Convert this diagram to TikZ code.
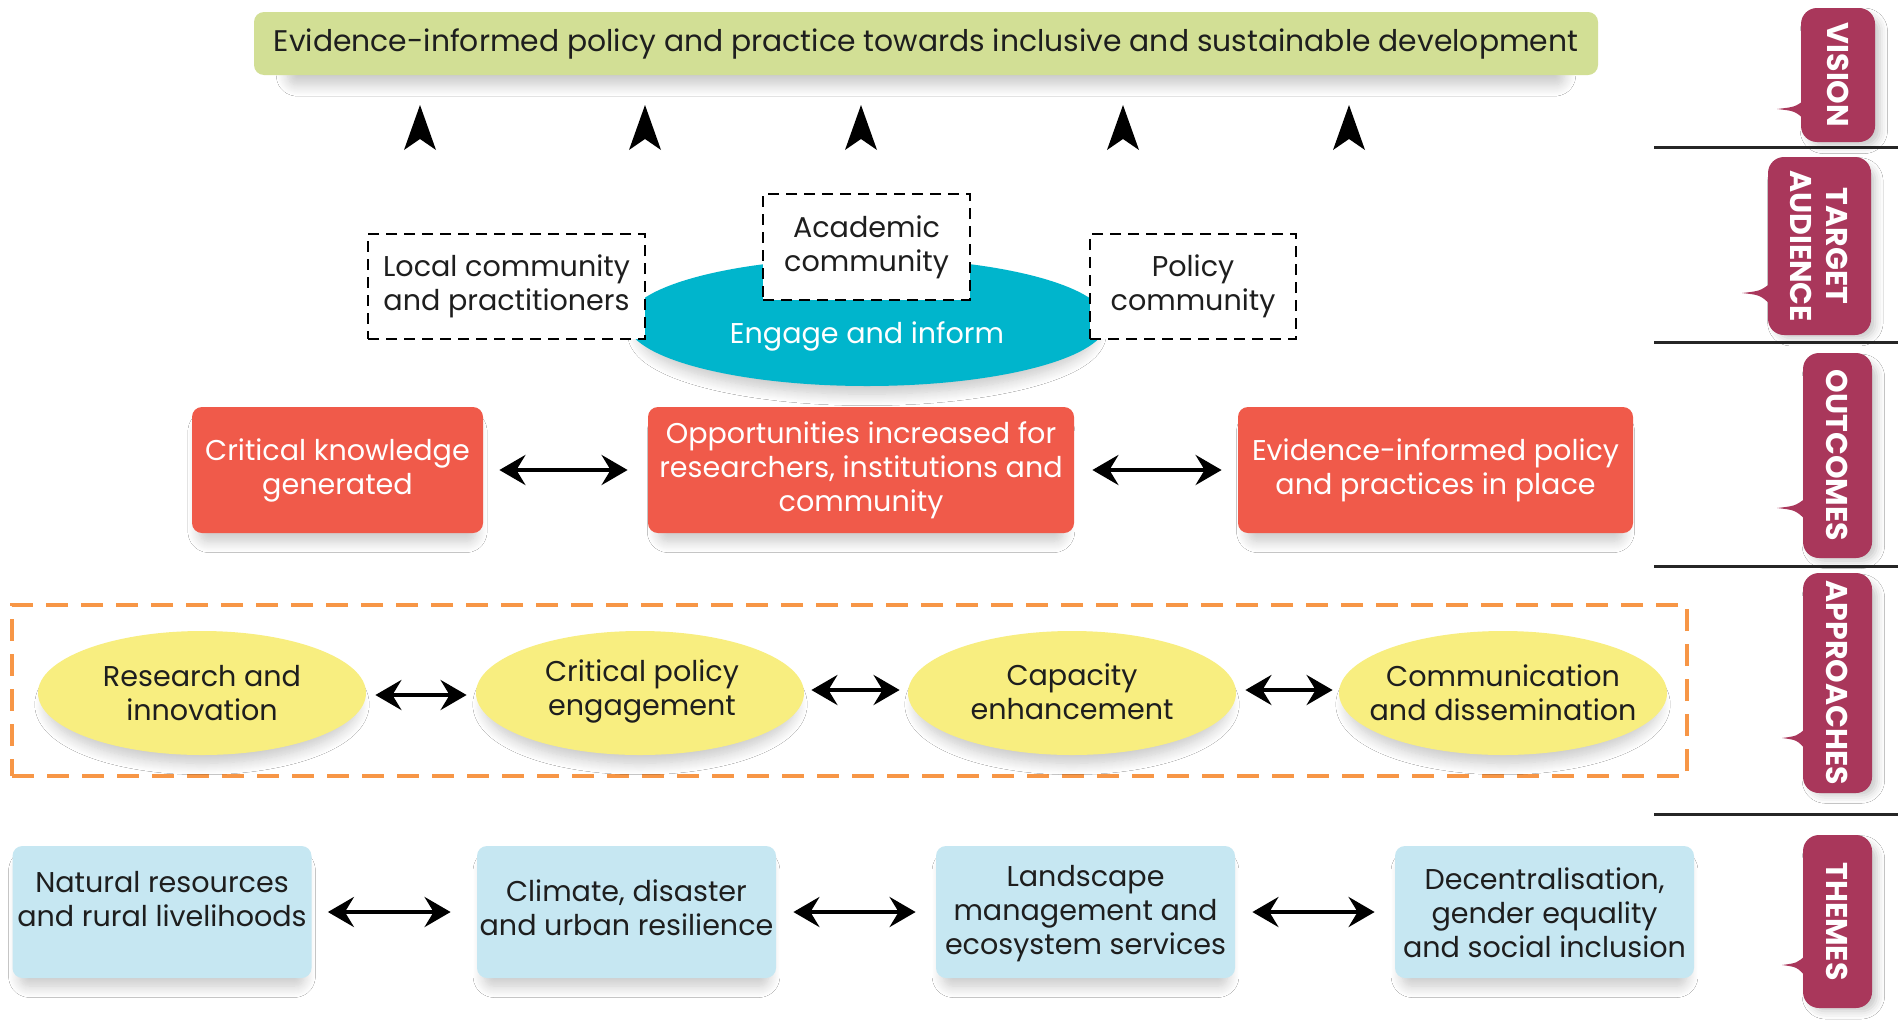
\documentclass[tikz,border=0pt]{standalone}
\usepackage{fontspec}
\setmainfont{Poppins}
\usetikzlibrary{arrows.meta,shapes.geometric,shadows.blur}
\definecolor{visgreen}{HTML}{D2DF95}
\definecolor{outred}{HTML}{F05A4A}
\definecolor{engteal}{HTML}{00B5CC}
\definecolor{appyellow}{HTML}{F8EE80}
\definecolor{themeblue}{HTML}{C6E7F2}
\definecolor{tabred}{HTML}{A9375B}
\definecolor{dashorange}{HTML}{F79646}
\definecolor{darktext}{HTML}{1E1E1E}
\tikzset{
  body/.style={font=\fontsize{14.3}{17}\selectfont, align=center, text=darktext, inner sep=0pt},
  softshadow/.style={blur shadow={shadow xshift=0pt, shadow yshift=-6pt, shadow blur radius=6pt, shadow blur steps=12, shadow scale=0.95, shadow opacity=22}},
  visionbox/.style={font=\fontsize{14.9}{18}\selectfont, text=darktext, inner sep=0pt, fill=visgreen, rounded corners=5pt, softshadow},
  audbox/.style={body, draw=black, fill=white, line width=1.3pt, dash pattern=on 5.5pt off 3.5pt},
  redbox/.style={body, text=white, fill=outred, rounded corners=5pt, minimum height=63pt, softshadow},
  yellowell/.style={ellipse, fill=appyellow, inner sep=0pt, minimum width=164pt, minimum height=62pt, softshadow},
  themebox/.style={body, fill=themeblue, rounded corners=5pt, minimum width=149.5pt, minimum height=66pt, softshadow},
  tabbox/.style={fill=tabred, rounded corners=8pt, inner sep=0pt,
     blur shadow={shadow xshift=3pt, shadow yshift=-3pt, shadow blur radius=4pt, shadow scale=0.97, shadow opacity=22}},
  tabtext/.style={font=\fontsize{15}{18}\selectfont\bfseries, text=white, align=center, rotate=-90, inner sep=0pt},
  dblarrow/.style={line width=2pt, {Stealth[length=13pt,width=15pt,inset=4.5pt]}-{Stealth[length=13pt,width=15pt,inset=4.5pt]}},
  sepline/.style={line width=1.5pt, draw=black!85},
}
\begin{document}
\begin{tikzpicture}[x=0.5pt,y=-0.5pt]
\useasboundingbox (0,0) rectangle (1898,1033);
\fill[white] (0,0) rectangle (1898,1033);

% ---------- VISION ----------
\node[visionbox, minimum width=672pt, minimum height=31.5pt] (vision) at (926,43.5)
  {Evidence-informed policy and practice towards inclusive and sustainable development};

% upward arrowheads
\foreach \x [count=\i] in {420,645,861,1123,1349} {
  \coordinate (up\i) at (\x,105);
  \fill[black] (up\i) -- ++(16,45) -- ++(-16,-11) -- ++(-16,11) -- cycle;
}

% ---------- TARGET AUDIENCE ----------
\node[ellipse, fill=engteal, minimum width=240pt, minimum height=64pt, inner sep=0pt, softshadow] (engage) at (867,322) {};
\node[body, text=white] (engagetxt) at (867,336) {Engage and inform};
\node[audbox, minimum width=138.5pt, minimum height=52.5pt] (local) at (506.5,286.5) {Local community\\and practitioners};
\node[audbox, minimum width=103.5pt, minimum height=53pt] (academic) at (866.5,247) {Academic\\community};
\node[audbox, minimum width=103pt, minimum height=52.5pt] (policy) at (1193,286.5) {Policy\\community};

% ---------- OUTCOMES ----------
\node[redbox, minimum width=145.5pt] (out1) at (337.5,470) {Critical knowledge\\generated};
\node[redbox, minimum width=213pt] (out2) at (861,470) {Opportunities increased for\\researchers, institutions and\\community};
\node[redbox, minimum width=197.5pt] (out3) at (1435.5,470) {Evidence-informed policy\\and practices in place};
\draw[dblarrow, shorten <=8pt, shorten >=10pt] (out1.east) -- (out2.west);
\draw[dblarrow, shorten <=9pt, shorten >=8pt] (out2.east) -- (out3.west);

% ---------- APPROACHES ----------
\node[draw=dashorange, line width=2pt, dash pattern=on 11pt off 6.5pt, minimum width=837.5pt, minimum height=85.5pt, inner sep=0pt] (appbox) at (849.5,690.5) {};
\node[yellowell] (app1) at (202,693) {};
\node[yellowell] (app2) at (640,693) {};
\node[yellowell] (app3) at (1072,693) {};
\node[yellowell] (app4) at (1503,693) {};
\node[body] (app1t) at (202,693) {Research and\\innovation};
\node[body] (app2t) at (642,691) {Critical policy\\engagement};
\node[body] (app3t) at (1072,692) {Capacity\\enhancement};
\node[body] (app4t) at (1503,693) {Communication\\and dissemination};
\draw[dblarrow, shorten <=4.5pt, shorten >=4.5pt] ([yshift=-1pt]app1.east) -- ([yshift=-1pt]app2.west);
\draw[dblarrow, shorten <=3.5pt, shorten >=4pt] ([yshift=1.5pt]app2.east) -- ([yshift=1.5pt]app3.west);
\draw[dblarrow, shorten <=4.5pt, shorten >=3pt] ([yshift=1.5pt]app3.east) -- ([yshift=1.5pt]app4.west);

% ---------- THEMES ----------
\node[themebox] (th1) at (162,912) {};
\node[themebox] (th2) at (626.5,912) {};
\node[themebox] (th3) at (1085.5,912) {};
\node[themebox] (th4) at (1544.5,912) {};
\node[body] (th1t) at (162,899) {Natural resources\\and rural livelihoods};
\node[body] (th2t) at (626.5,908) {Climate, disaster\\and urban resilience};
\node[body] (th3t) at (1085.5,914) {Landscape\\management and\\ecosystem services};
\node[body] (th4t) at (1544.5,913) {Decentralisation,\\gender equality\\and social inclusion};
\draw[dblarrow, shorten <=8pt, shorten >=13pt] (th1.east) -- (th2.west);
\draw[dblarrow, shorten <=8.5pt, shorten >=10pt] (th2.east) -- (th3.west);
\draw[dblarrow, shorten <=8.5pt, shorten >=10pt] (th3.east) -- (th4.west);

% ---------- RIGHT SIDE LABELS ----------
\coordinate (s1a) at (1654,147); \coordinate (s1b) at (1898,147);
\coordinate (s2a) at (1654,342); \coordinate (s2b) at (1898,342);
\coordinate (s3a) at (1654,566); \coordinate (s3b) at (1898,566);
\coordinate (s4a) at (1654,814); \coordinate (s4b) at (1898,814);
\draw[sepline] (s1a) -- (s1b);
\draw[sepline] (s2a) -- (s2b);
\draw[sepline] (s3a) -- (s3b);
\draw[sepline] (s4a) -- (s4b);

\node[tabbox, minimum width=37pt, minimum height=67pt] (tabvis) at (1838,75) {};
\node[tabbox, minimum width=51.5pt, minimum height=89pt] (tabaud) at (1819.5,246) {};
\node[tabbox, minimum width=34.5pt, minimum height=102.5pt] (tabout) at (1837.5,455.5) {};
\node[tabbox, minimum width=34.5pt, minimum height=110pt] (tabapp) at (1837.5,683) {};
\node[tabbox, minimum width=34.5pt, minimum height=86.5pt] (tabthe) at (1837.5,921.5) {};
\fill[tabred] (1806,99) .. controls (1795,107) .. (1777,109) .. controls (1795,111) .. (1806,121) -- cycle;
\fill[tabred] (1771,283) .. controls (1760,291) .. (1742,293) .. controls (1760,295) .. (1771,305) -- cycle;
\fill[tabred] (1806,498) .. controls (1795,506) .. (1777,508) .. controls (1795,510) .. (1806,520) -- cycle;
\fill[tabred] (1806,728) .. controls (1797,736) .. (1782,738) .. controls (1797,740) .. (1806,750) -- cycle;
\fill[tabred] (1806,955) .. controls (1797,963) .. (1782,965) .. controls (1797,967) .. (1806,977) -- cycle;
\node[tabtext] (tabvist) at (tabvis) {VISION};
\node[tabtext] (tabaudt) at (tabaud) {TARGET\\AUDIENCE};
\node[tabtext] (taboutt) at (tabout) {OUTCOMES};
\node[tabtext] (tabappt) at (tabapp) {APPROACHES};
\node[tabtext] (tabthet) at (tabthe) {THEMES};
\end{tikzpicture}
\end{document}
